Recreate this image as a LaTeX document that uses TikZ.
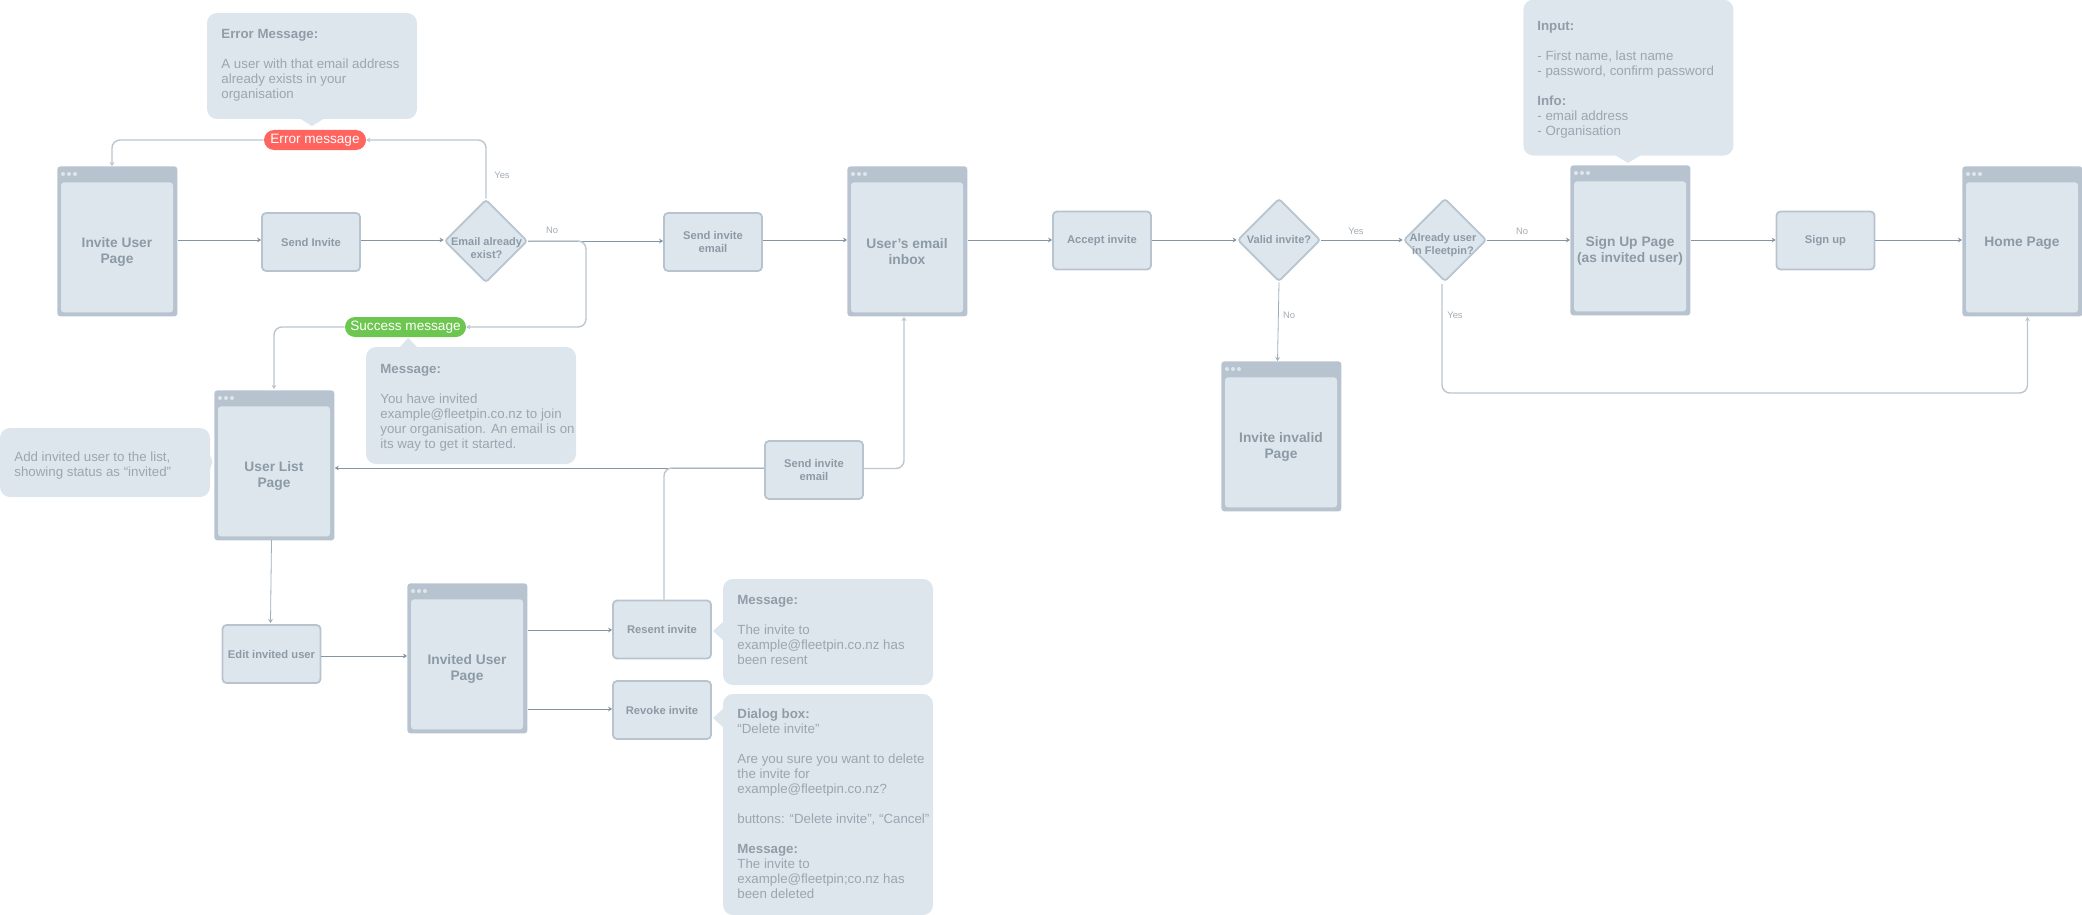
\documentclass[tikz,border=0pt]{standalone}
\usepackage{fontspec}
\setmainfont{Liberation Sans}
\usetikzlibrary{arrows.meta,shapes.geometric,calc}
\definecolor{bgfill}{HTML}{DEE6ED}
\definecolor{edgec}{HTML}{B7C4D0}
\definecolor{titlec}{HTML}{8C9AA6}
\definecolor{bodyc}{HTML}{9AA6B1}
\definecolor{headc}{HTML}{909DA8}
\definecolor{linkdark}{HTML}{8496A6}
\definecolor{linklight}{HTML}{BCC6CE}
\definecolor{labelc}{HTML}{A3ACB4}
\definecolor{redpill}{HTML}{FF645E}
\definecolor{greenpill}{HTML}{6CC650}
\tikzset{
  pagebg/.style={fill=edgec,draw=none,rounded corners=1.5pt,minimum width=60pt,minimum height=75pt,inner sep=0pt},
  pagein/.style={fill=bgfill,draw=none,rounded corners=1.5pt,minimum width=56pt,minimum height=65pt,inner sep=0pt},
  pagetitle/.style={font=\fontsize{6.9}{8}\selectfont\bfseries,text=titlec,align=center,inner sep=0pt},
  dotmark/.style={fill=bgfill,draw=none,circle,minimum size=2pt,inner sep=0pt},
  actbox/.style={fill=bgfill,draw=edgec,line width=0.9pt,rounded corners=2pt,minimum width=49pt,minimum height=29pt,inner sep=0pt,font=\fontsize{5.6}{6.6}\selectfont\bfseries,text=titlec,align=center},
  decision/.style={shape=diamond,fill=bgfill,draw=edgec,line width=0.9pt,rounded corners=1.5pt,minimum width=41.5pt,minimum height=41.5pt,inner sep=0pt},
  dectext/.style={font=\fontsize{5.5}{6.6}\selectfont\bfseries,text=titlec,align=center,inner sep=0pt},
  pill/.style={rounded corners=5pt,minimum height=10pt,inner sep=0pt,text=white,font=\fontsize{6.8}{8}\selectfont},
  callbg/.style={fill=bgfill,draw=none,rounded corners=5pt,inner sep=0pt},
  calltext/.style={font=\fontsize{6.65}{7.5}\selectfont,text=bodyc,align=left,anchor=north west,inner sep=0pt},
  yesno/.style={font=\fontsize{4.7}{5}\selectfont,text=labelc,inner sep=0pt},
  linkd/.style={draw=linkdark,line width=0.4pt,rounded corners=4pt,-{Stealth[length=2pt,width=2.4pt]}},
  linkl/.style={draw=linklight,line width=0.7pt,rounded corners=4pt,-{Stealth[length=2pt,width=2.4pt,fill=linkdark]}},
  linklnoarrow/.style={draw=linklight,line width=0.7pt,rounded corners=4pt},
}
\newcommand{\hd}[1]{{\bfseries\color{headc}#1}}
% name, left x, top y, label centre y, label
\newcommand{\pagebox}[5]{%
  \node[pagebg,anchor=north west] (#1) at (#2,#3) {};
  \node[pagein,anchor=north] (#1in) at ($(#2,#3)+(60,16)$) {};
  \foreach \dx in {6,12,18} \node[dotmark] at ($(#2,#3)+(\dx,8)$) {};
  \node[pagetitle] (#1t) at ($(#2,#3)+(60,#4)$) {#5};
}
\begin{document}
\begin{tikzpicture}[x=0.5pt,y=-0.5pt]
\useasboundingbox (0,0) rectangle (2082,915);

% free ends
\coordinate (pinvTop) at (112,166);
\coordinate (plistTop) at (274,389);
\coordinate (dusrB) at (1442,284);
\coordinate (phomeB) at (2027.5,317);
\coordinate (pinboxB) at (904,317);

% pages
\pagebox{pinvite}{57}{166}{85.5}{Invite User\\Page}
\pagebox{plist}{214}{390}{85.5}{User List\\Page}
\pagebox{pinvited}{407}{583}{85.5}{Invited User\\Page}
\pagebox{pinbox}{847}{166}{85.5}{User’s email\\inbox}
\pagebox{pbad}{1221}{361}{85.5}{Invite invalid\\Page}
\pagebox{psign}{1570}{165}{85.5}{Sign Up Page\\(as invited user)}
\pagebox{phome}{1962}{166}{77}{Home Page}

% action boxes
\node[actbox] (send1) at (311,242) {Send Invite};
\node[actbox] (send2) at (713,242) {Send invite\\email};
\node[actbox] (send3) at (814,470) {Send invite\\email};
\node[actbox] (edit) at (271.5,654) {Edit invited user};
\node[actbox] (resent) at (662,629.5) {Resent invite};
\node[actbox] (revoke) at (662,710) {Revoke invite};
\node[actbox] (accept) at (1102,240.5) {Accept invite};
\node[actbox] (signup) at (1825.5,240.5) {Sign up};

% decisions
\node[decision] (dmail) at (486,241) {};
\node[dectext] (dmailt) at (486.5,248) {Email already\\exist?};
\node[decision] (dvalid) at (1279,240) {};
\node[dectext] (dvalidt) at (1279,240) {Valid invite?};
\node[decision] (dusr) at (1445,240) {};
\node[dectext] (dusrt) at (1443,245) {Already user\\in Fleetpin?};

% pills
\node[pill,fill=redpill,minimum width=51pt] (perr) at (315,140) {\raisebox{-0.5pt}{Error message}};
\node[pill,fill=greenpill,minimum width=60.5pt] (pok) at (405.5,327) {\raisebox{-0.5pt}{Success message}};

% callouts
\fill[bgfill] (299,118) -- (312,126) -- (325,118) -- cycle;
\node[callbg,minimum width=105pt,minimum height=53pt] (cerr) at (312,66) {};
\node[calltext] (cerrt) at (221,28.5) {\hd{Error Message:}\\\mbox{}\\A user with that email address\\already exists in your\\organisation};

\fill[bgfill] (399,348) -- (408,338) -- (418,348) -- cycle;
\node[callbg,minimum width=105pt,minimum height=58.5pt] (cok) at (471,405.5) {};
\node[calltext] (cokt) at (380,363.5) {\hd{Message:}\\\mbox{}\\You have invited\\example@fleetpin.co.nz to join\\your organisation. An email is on\\its way to get it started.};

\fill[bgfill] (209,452) -- (212.5,462) -- (209,472) -- cycle;
\node[callbg,minimum width=105pt,minimum height=34.5pt] (clist) at (105,462.5) {};
\node[calltext] (clistt) at (14,451.5) {Add invited user to the list,\\showing status as “invited”};

\fill[bgfill] (724,621) -- (713,631) -- (724,641) -- cycle;
\node[callbg,minimum width=105pt,minimum height=53pt] (cres) at (828,632) {};
\node[calltext] (crest) at (737,594.5) {\hd{Message:}\\\mbox{}\\The invite to\\example@fleetpin.co.nz has\\been resent};

\fill[bgfill] (724,708) -- (713,718) -- (724,728) -- cycle;
\node[callbg,minimum width=105pt,minimum height=110.5pt] (crev) at (828,804.5) {};
\node[calltext] (crevt) at (737,708.5) {\hd{Dialog box:}\\“Delete invite”\\\mbox{}\\Are you sure you want to delete\\the invite for\\example@fleetpin.co.nz?\\\mbox{}\\buttons: “Delete invite”, “Cancel”\\\mbox{}\\\hd{Message:}\\The invite to\\example@fleetpin;co.nz has\\been deleted};

\fill[bgfill] (1615,155) -- (1628,163) -- (1641,155) -- cycle;
\node[callbg,minimum width=105pt,minimum height=78pt,anchor=south west] (csign) at (1523,156) {};
\node[calltext] (csignt) at (1537,20.5) {\hd{Input:}\\\mbox{}\\- First name, last name\\- password, confirm password\\\mbox{}\\\hd{Info:}\\- email address\\- Organisation};

% connectors
\draw[linkl] (perr.west) -| (pinvTop);
\draw[linkl] (dmail.north) |- (perr.east);
\draw[linkd] (pinvite.east |- 0,240) -- (send1.west |- 0,240);
\draw[linkd] (send1.east |- 0,240) -- (dmail.west |- 0,240);
\draw[linkd] (dmail.east) -- (send2.west |- dmail.east);
\draw[linkl] (dmail.east) -- (586,241) -- (586,327) -- (pok.east);
\draw[linkl] (pok.west) -| (plistTop);
\draw[linkd] (send2.east |- 0,240) -- (pinbox.west |- 0,240);
\draw[linkd] (pinbox.east |- 0,240) -- (accept.west |- 0,240);
\draw[linkd] (accept.east |- 0,240) -- (dvalid.west);
\draw[linkd] (dvalid.east) -- (dusr.west);
\draw[linkd] (dusr.east) -- (psign.west |- dusr.east);
\draw[linkd] (psign.east |- 0,240) -- (signup.west |- 0,240);
\draw[linkd] (signup.east |- 0,240) -- (phome.west |- 0,240);
\draw[linkd,draw=linklight!50!linkdark] (dvalid.south) -- (1277.5,361);
\draw[linkl] (dusrB) -- (1442,393) -- (2027.5,393) -- (phomeB);
\draw[linkd] (send3.west |- 0,468) -- (plist.east |- 0,468);
\draw[linklnoarrow] (resent.north -| 664,0) |- (send3.west |- 0,468);
\draw[linkl] (send3.east |- 0,468.5) -| (pinboxB);
\draw[linkd,draw=linklight!50!linkdark] (271.5,540) -- (270.5,623);
\draw[linkd] (edit.east |- 0,656) -- (pinvited.west |- 0,656);
\draw[linkd] (pinvited.east |- 0,630) -- (resent.west |- 0,630);
\draw[linkd] (pinvited.east |- 0,709) -- (revoke.west |- 0,709);

% branch labels
\node[yesno] (l1) at (502,175) {Yes};
\node[yesno] (l2) at (552,230) {No};
\node[yesno] (l3) at (1289,315) {No};
\node[yesno] (l4) at (1356,231) {Yes};
\node[yesno] (l5) at (1522,231) {No};
\node[yesno] (l6) at (1455,315) {Yes};
\end{tikzpicture}
\end{document}
